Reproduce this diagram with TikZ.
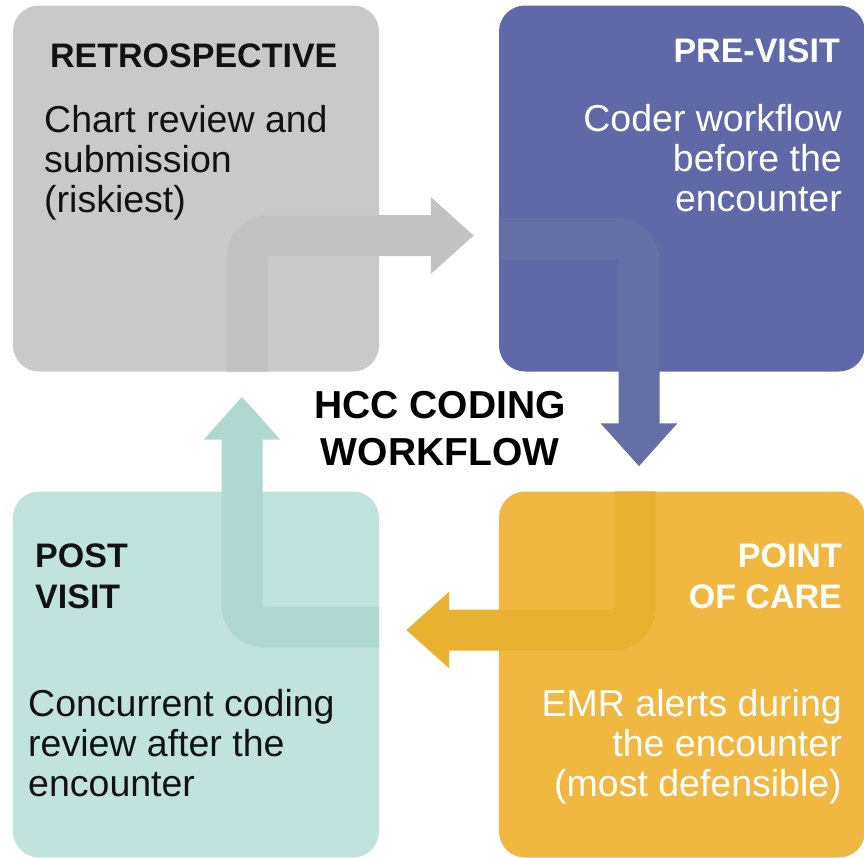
\documentclass[tikz,border=0pt]{standalone}
\usepackage{fontspec}
\setmainfont{Liberation Sans}
\usetikzlibrary{arrows.meta,positioning,calc}
\definecolor{retroC}{HTML}{C9C9C9}
\definecolor{retroA}{HTML}{C2C2C2}
\definecolor{preC}{HTML}{6168A7}
\definecolor{preA}{HTML}{666EA6}
\definecolor{pocC}{HTML}{F0B840}
\definecolor{pocA}{HTML}{E9B130}
\definecolor{postC}{HTML}{C0E4DD}
\definecolor{postA}{HTML}{AED8D0}
\tikzset{
  phase/.style={rectangle, rounded corners=26pt, inner sep=0pt,
                fill=#1, minimum width=366pt, minimum height=366pt},
  ptitle/.style={inner sep=0pt, font=\fontsize{34}{41}\selectfont\bfseries},
  pbody/.style={inner sep=0pt, font=\fontsize{37.5}{40}\selectfont},
  flow/.style={draw=#1, line width=41pt, rounded corners=22pt,
               -{Triangle[length=43pt,width=74pt]}},
}
\begin{document}
\begin{tikzpicture}[x=1pt, y=-1pt]
  \useasboundingbox (0,0) rectangle (864,857);
  % phase boxes
  \node[phase=retroC] (retro) at (196,188.5) {};
  \node[phase=preC]   (pre)   at (682,188.5) {};
  \node[phase=pocC]   (poc)   at (682,674.5) {};
  \node[phase=postC]  (post)  at (196,674.5) {};
  % bent arrows between phases
  \draw[flow=retroA] ([xshift=51pt]retro.south) |- ([xshift=-25pt,yshift=-47pt]pre.west);
  \draw[flow=preA] ([yshift=-50pt]pre.west) -| ([xshift=-43pt,yshift=25pt]poc.north);
  \draw[flow=pocA] ([xshift=-47pt]poc.north) |- ([xshift=27pt,yshift=44.5pt]post.east);
  \draw[flow=postA] ([yshift=47.5pt]post.east) -| ([xshift=46pt,yshift=-25pt]retro.south);
  % texts (base = last line)
  \node[ptitle, anchor=base west, text=black!93] (retroT) at (50,67) {RETROSPECTIVE};
  \node[pbody, anchor=base west, align=left, text=black!93] (retroB) at (44,212)
    {Chart review and\\submission\\(riskiest)};
  \node[ptitle, anchor=base east, text=white] (preT) at (840,62) {PRE-VISIT};
  \node[pbody, anchor=base east, align=right, text=white] (preB) at (842,211)
    {Coder workflow\\before the\\encounter};
  \node[ptitle, anchor=base east, align=right, text=white] (pocT) at (842,608)
    {POINT\\OF CARE};
  \node[pbody, anchor=base east, align=right, text=white] (pocB) at (842,796)
    {EMR alerts during\\the encounter\\(most defensible)};
  \node[ptitle, anchor=base west, align=left, text=black!93] (postT) at (35,608)
    {POST\\VISIT};
  \node[pbody, anchor=base west, align=left, text=black!93] (postB) at (28,796)
    {Concurrent coding\\review after the\\encounter};
  \node[inner sep=0pt, anchor=base, align=center,
        font=\fontsize{39}{47}\selectfont\bfseries] (hcc) at (440,465)
    {HCC CODING\\WORKFLOW};
\end{tikzpicture}
\end{document}
